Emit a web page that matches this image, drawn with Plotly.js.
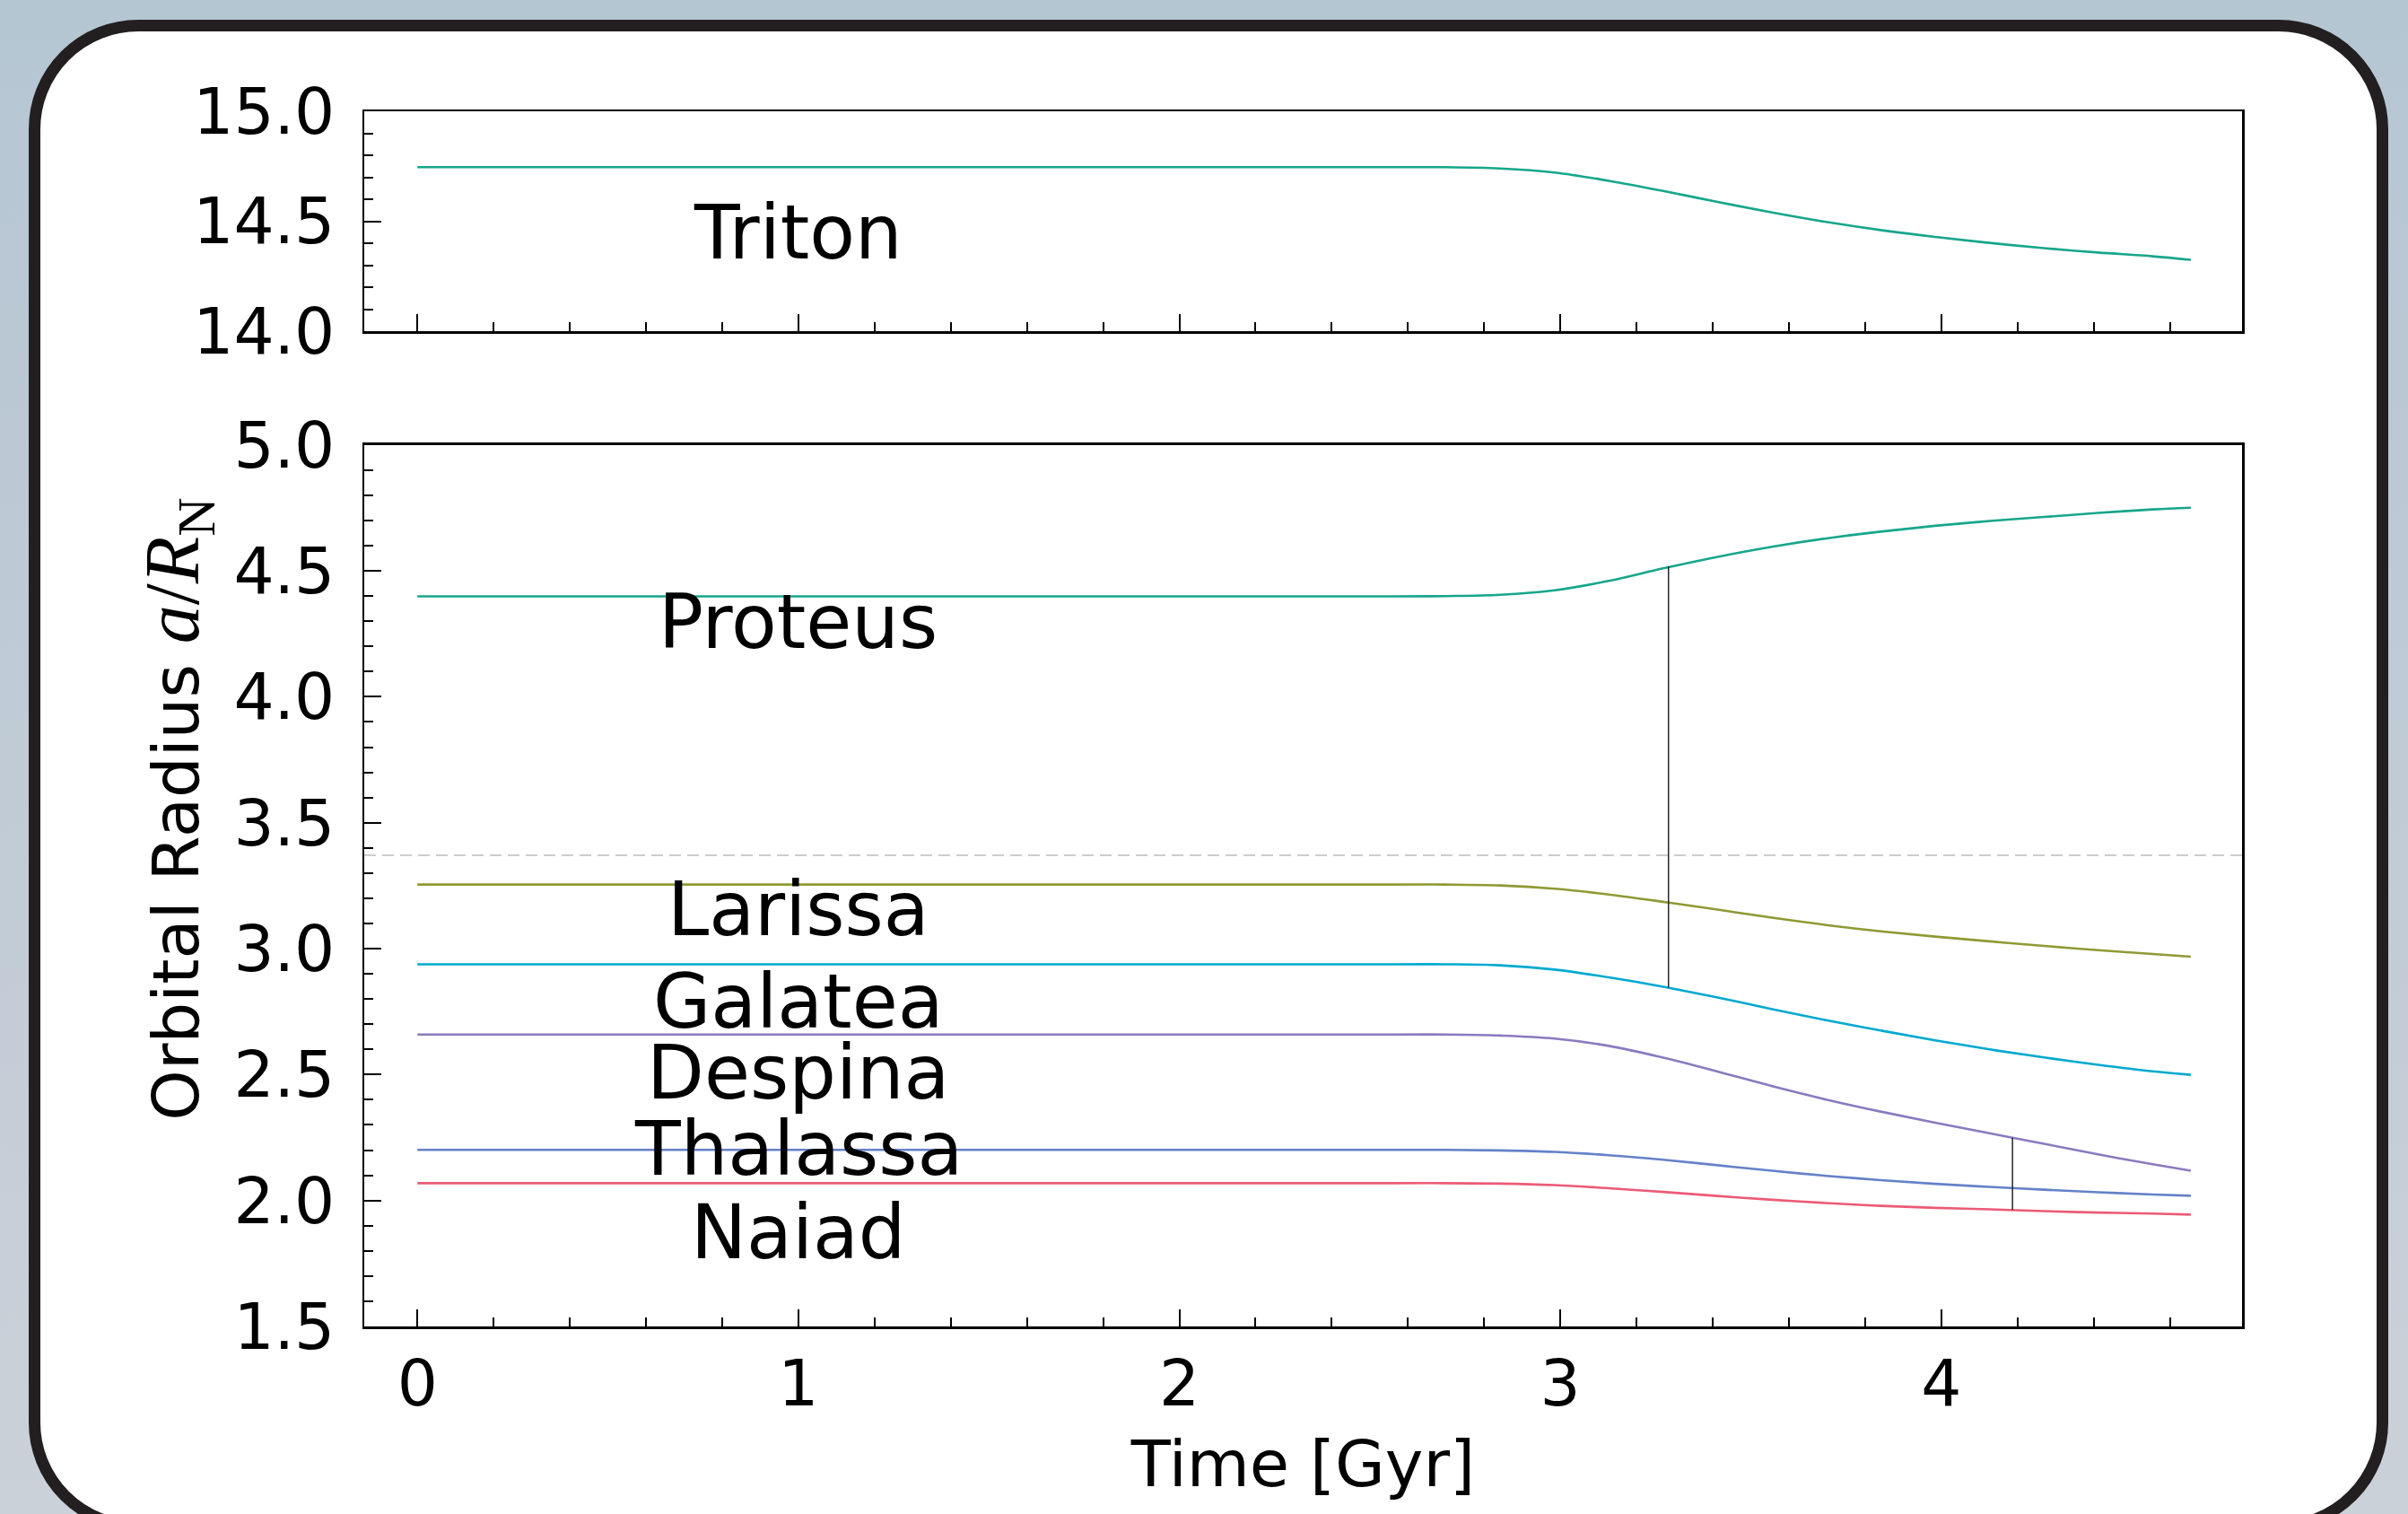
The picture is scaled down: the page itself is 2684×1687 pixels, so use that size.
<!DOCTYPE html>
<html>
<head>
<meta charset="utf-8">
<script src="https://cdn.plot.ly/plotly-3.0.1.min.js"></script>
<style>
html,body{margin:0;padding:0;width:2684px;height:1687px;overflow:hidden;
  background:linear-gradient(to bottom,#b5c6d3 0%,#c2ccd6 60%,#cbd1d9 100%);}
#card{position:absolute;left:32px;top:22px;width:2630px;height:1685px;box-sizing:border-box;
  border:13px solid #231f20;border-radius:122px;background:#ffffff;}
#chart{position:absolute;left:0;top:0;width:2684px;height:1687px;}
</style>
</head>
<body>
<div id="card"></div>
<div id="chart"></div>
<script>
// ---- data ----
const timeGyr = [0, 2.556, 2.699, 2.842, 2.985, 3.127, 3.270, 3.413, 3.556, 3.698, 3.841, 3.984, 4.127, 4.270, 4.412, 4.555, 4.655];
const triton   = [14.746, 14.746, 14.746, 14.740, 14.722, 14.684, 14.638, 14.588, 14.540, 14.497, 14.460, 14.429, 14.402, 14.378, 14.358, 14.341, 14.325];
const proteus  = [4.399, 4.399, 4.400, 4.405, 4.423, 4.460, 4.510, 4.556, 4.596, 4.629, 4.656, 4.679, 4.698, 4.714, 4.730, 4.744, 4.751];
const larissa  = [3.2545, 3.2545, 3.2545, 3.251, 3.238, 3.215, 3.186, 3.155, 3.123, 3.094, 3.069, 3.048, 3.029, 3.011, 2.994, 2.979, 2.968];
const galatea  = [2.938, 2.938, 2.938, 2.934, 2.917, 2.886, 2.849, 2.806, 2.760, 2.716, 2.675, 2.636, 2.600, 2.568, 2.539, 2.513, 2.499];
const despina  = [2.659, 2.659, 2.659, 2.655, 2.643, 2.614, 2.567, 2.512, 2.454, 2.401, 2.353, 2.309, 2.267, 2.225, 2.183, 2.144, 2.118];
const thalassa = [2.201, 2.201, 2.201, 2.199, 2.193, 2.180, 2.162, 2.140, 2.118, 2.098, 2.081, 2.066, 2.054, 2.043, 2.033, 2.024, 2.019];
const naiad    = [2.069, 2.069, 2.069, 2.067, 2.061, 2.049, 2.034, 2.018, 2.003, 1.990, 1.979, 1.971, 1.965, 1.958, 1.952, 1.948, 1.944];

const moonNames  = ['Proteus', 'Larissa', 'Galatea', 'Despina', 'Thalassa', 'Naiad'];
const moonSeries = [proteus, larissa, galatea, despina, thalassa, naiad];
const moonColors = ['#17a68c', '#8f9a33', '#00a9cf', '#8a7bbf', '#6581c8', '#ec5b75'];
const labelX = 1.0;
const labelY = [4.295, 3.154, 2.788, 2.506, 2.2025, 1.872];
const tritonLabelY = 14.446;

const resonanceT      = [3.284, 4.187];
const resonanceTop    = [4.518, 2.249];
const resonanceBottom = [2.845, 1.962];
const syncOrbit = 3.371;

const xTicks = [0, 1, 2, 3, 4];

// ---- traces ----
const LW = 2.6;
const traces = [];
traces.push({x: timeGyr, y: triton, xaxis: 'x2', yaxis: 'y2', mode: 'lines',
  line: {color: '#17a68c', width: LW, shape: 'spline', smoothing: 1}, name: 'Triton', hoverinfo: 'skip'});
moonSeries.forEach((s, i) => {
  traces.push({x: timeGyr, y: s, xaxis: 'x', yaxis: 'y', mode: 'lines',
    line: {color: moonColors[i], width: LW, shape: 'spline', smoothing: 1}, name: moonNames[i], hoverinfo: 'skip'});
});
resonanceT.forEach((t, i) => {
  traces.push({x: [t, t], y: [resonanceTop[i], resonanceBottom[i]], xaxis: 'x', yaxis: 'y', mode: 'lines',
    line: {color: '#262626', width: 1.5}, hoverinfo: 'skip'});
});

// ---- layout ----
const FONT = 'DejaVu Sans';
const tickFont = {family: FONT, size: 71, color: '#000'};
const xr = [-0.1395, 4.7895];
function xAxis(extra) {
  return Object.assign({
    range: xr, tickvals: xTicks, ticks: 'inside', ticklen: 19, tickwidth: 2, tickcolor: '#000',
    showline: true, linewidth: 2.5, linecolor: '#000', mirror: true, showgrid: false, zeroline: false,
    tickfont: tickFont, ticklabelstandoff: 0,
    minor: {ticks: 'inside', ticklen: 10, tickwidth: 2, tickcolor: '#000', dtick: 0.2, tick0: 0, showgrid: false}
  }, extra);
}
function yAxis(extra) {
  return Object.assign({
    dtick: 0.5, ticks: 'inside', ticklen: 19, tickwidth: 2, tickcolor: '#000', tickformat: '.1f',
    showline: true, linewidth: 2.5, linecolor: '#000', mirror: true, showgrid: false, zeroline: false,
    tickfont: tickFont, ticklabelstandoff: 16,
    minor: {ticks: 'inside', ticklen: 10, tickwidth: 2, tickcolor: '#000', dtick: 0.1, showgrid: false}
  }, extra);
}

const annotations = [];
annotations.push({x: labelX, y: tritonLabelY, xref: 'x2', yref: 'y2', text: 'Triton', showarrow: false,
  xanchor: 'center', yanchor: 'middle', font: {family: FONT, size: 83, color: '#000'}});
moonNames.forEach((n, i) => {
  annotations.push({x: labelX, y: labelY[i], xref: 'x', yref: 'y', text: n, showarrow: false,
    xanchor: 'center', yanchor: 'middle', font: {family: FONT, size: 83, color: '#000'}});
});
annotations.push({x: -0.0994, y: 0.4256, xref: 'paper', yref: 'paper', textangle: -90, showarrow: false,
  xanchor: 'center', yanchor: 'middle',
  text: 'Orbital Radius <span style="font-family:Liberation Serif;font-size:86px"><i>a</i>/<i>R</i><sub>N</sub></span>',
  font: {family: FONT, size: 72, color: '#000'}});

const layout = {
  width: 2684, height: 1687,
  margin: {l: 406, r: 185, t: 124, b: 208.5, pad: 0},
  paper_bgcolor: 'rgba(0,0,0,0)', plot_bgcolor: 'rgba(0,0,0,0)',
  showlegend: false,
  font: {family: FONT, color: '#000'},
  xaxis: xAxis({anchor: 'y', domain: [0, 1],
    title: {text: 'Time [Gyr]', font: {family: FONT, size: 72, color: '#000'}, standoff: 24}}),
  yaxis: yAxis({anchor: 'x', domain: [0, 0.7254], range: [1.5, 5]}),
  xaxis2: xAxis({anchor: 'y2', domain: [0, 1], showticklabels: false, matches: 'x'}),
  yaxis2: yAxis({anchor: 'x2', domain: [0.8189, 1], range: [14, 15]}),
  shapes: [{type: 'line', xref: 'x domain', yref: 'y', x0: 0, x1: 1, y0: syncOrbit, y1: syncOrbit,
    line: {color: '#cccccc', width: 2, dash: '13px,7px'}, layer: 'below'}],
  annotations: annotations
};

Plotly.newPlot('chart', traces, layout, {staticPlot: true, displayModeBar: false});
</script>
</body>
</html>
